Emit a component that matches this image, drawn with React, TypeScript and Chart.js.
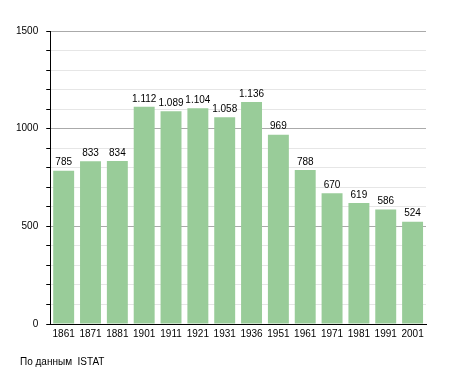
import React, { useEffect, useRef } from "react";
import { Chart, registerables } from "chart.js";

Chart.register(...registerables);

const years = ["1861", "1871", "1881", "1901", "1911", "1921", "1931", "1936", "1951", "1961", "1971", "1981", "1991", "2001"];
const population = [785, 833, 834, 1112, 1089, 1104, 1058, 1136, 969, 788, 670, 619, 586, 524];
const sourceText = "По данным  ISTAT";

const FONT = "'Liberation Sans', Arial, sans-serif";

function fmt(v: number): string {
  const s = String(Math.round(v));
  return s.replace(/\B(?=(\d{3})+(?!\d))/g, ".");
}

const labelsPlugin = {
  id: "valueLabels",
  afterDatasetsDraw(chart: any) {
    const ctx = chart.ctx;
    const meta = chart.getDatasetMeta(0);
    ctx.save();
    ctx.font = `10px ${FONT}`;
    ctx.fillStyle = "#000";
    ctx.textAlign = "center";
    ctx.textBaseline = "bottom";
    meta.data.forEach((bar: any, i: number) => {
      ctx.fillText(fmt(population[i]), bar.x, bar.y - 3);
    });
    ctx.textAlign = "left";
    ctx.textBaseline = "middle";
    ctx.fillText(sourceText, 20, 362);
    ctx.restore();
  },
};

export default function App() {
  const ref = useRef<HTMLCanvasElement | null>(null);
  useEffect(() => {
    document.body.style.margin = "0";
    const chart = new Chart(ref.current!, {
      type: "bar",
      data: {
        labels: years,
        datasets: [
          {
            data: population,
            backgroundColor: "#99cc99",
            borderWidth: 0,
            barPercentage: 0.78,
            categoryPercentage: 1,
          },
        ],
      },
      options: {
        animation: false,
        responsive: false,
        maintainAspectRatio: false,
        layout: { padding: { top: 31, right: 29, bottom: 29, left: 8 } },
        plugins: {
          legend: { display: false },
          tooltip: { enabled: false },
          title: { display: false },
        },
        scales: {
          x: {
            grid: { display: false, drawTicks: false },
            border: { display: true, color: "#000", width: 1 },
            ticks: {
              color: "#000",
              font: { size: 10, family: FONT },
              padding: 4,
              maxRotation: 0,
              autoSkip: false,
            },
          },
          y: {
            min: 0,
            max: 1500,
            grid: {
              color: (c: any) => (c.tick && c.tick.value % 500 === 0 ? "#aaaaaa" : "#e6e6e6"),
              tickColor: "#000",
              tickLength: 4,
              drawTicks: true,
            },
            border: { display: true, color: "#000", width: 1 },
            ticks: {
              stepSize: 100,
              color: "#000",
              font: { size: 10, family: FONT },
              padding: 8,
              autoSkip: false,
              callback: (v: any) => (Number(v) % 500 === 0 ? String(v) : ""),
            },
          },
        },
      },
      plugins: [labelsPlugin],
    });
    return () => chart.destroy();
  }, []);
  return (
    <div style={{ position: "relative", width: 455, height: 373, background: "#fff" }}>
      <canvas ref={ref} width={455} height={373} style={{ width: 455, height: 373 }} />
    </div>
  );
}
